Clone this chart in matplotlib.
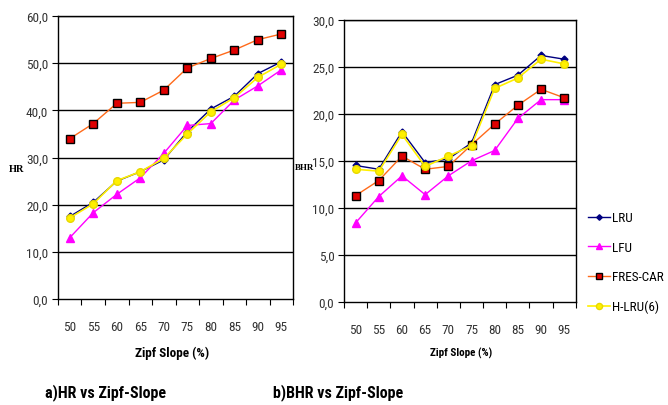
import numpy as np
import matplotlib.pyplot as plt
from matplotlib.ticker import FixedLocator, FuncFormatter

plt.rcParams['font.family'] = ['Roboto Condensed', 'Liberation Sans Narrow', 'Liberation Sans', 'DejaVu Sans']

# Zipf slope categories
slopes = ['50', '55', '60', '65', '70', '75', '80', '85', '90', '95']

# a) Hit ratio
hr_lru = [17.5, 20.5, 25.0, 27.0, 29.5, 35.5, 40.3, 43.0, 47.8, 50.3]
hr_lfu = [13.0, 18.3, 22.2, 25.7, 30.9, 36.8, 37.2, 42.2, 45.2, 48.6]
hr_fres = [34.0, 37.2, 41.5, 41.7, 44.3, 49.0, 51.0, 52.8, 55.0, 56.2]
hr_hlru = [17.2, 20.2, 25.1, 27.0, 29.8, 35.0, 39.7, 42.7, 47.0, 49.8]

# b) Byte hit ratio
bhr_lru = [14.5, 14.1, 18.1, 14.8, 15.2, 16.9, 23.1, 24.1, 26.2, 25.8]
bhr_lfu = [8.4, 11.2, 13.4, 11.4, 13.4, 15.0, 16.1, 19.5, 21.5, 21.5]
bhr_fres = [11.3, 12.9, 15.5, 14.1, 14.4, 16.7, 18.9, 20.9, 22.6, 21.7]
bhr_hlru = [14.1, 13.9, 17.8, 14.4, 15.5, 16.6, 22.7, 23.8, 25.8, 25.3]

styles = {
    'LRU': dict(color='#000080', marker='D', ms=3.5, mfc='#000080', mec='#000080', lw=1.0),
    'LFU': dict(color='#FF00FF', marker='^', ms=6, mfc='#FF00FF', mec='#FF00FF', lw=1.0),
    'FRES-CAR': dict(color='#FF6A1A', marker='s', ms=5.5, mfc='#E00000', mec='#000000', mew=1.0, lw=1.0),
    'H-LRU(6)': dict(color='#FFF000', marker='o', ms=5.5, mfc='#FFF000', mec='#E8D800', lw=1.2),
}

fig = plt.figure(figsize=(6.68, 4.06), dpi=100)
ax1 = fig.add_axes([0.0868, 0.261, 0.352, 0.697])
ax2 = fig.add_axes([0.515, 0.254, 0.347, 0.695])

x = np.arange(len(slopes))


def draw(ax, lru, lfu, fres, hlru, ymax, step):
    handles = []
    for name, vals in [('LRU', lru), ('LFU', lfu), ('FRES-CAR', fres), ('H-LRU(6)', hlru)]:
        h, = ax.plot(x, vals, label=name, **styles[name])
        handles.append(h)
    ax.set_xlim(-0.5, len(slopes) - 0.5)
    ax.set_ylim(0, ymax)
    yt = np.arange(0, ymax + 0.01, step)
    ax.set_yticks(yt)
    ax.yaxis.set_major_formatter(FuncFormatter(lambda v, p: ('%.1f' % v).replace('.', ',')))
    for v in yt[1:]:
        ax.axhline(v, color='black', lw=1.0, zorder=0)
    ax.set_xticks(x)
    ax.set_xticklabels(slopes)
    ax.xaxis.set_minor_locator(FixedLocator(np.arange(-0.5, len(slopes), 1.0)))
    ax.tick_params(axis='x', which='major', length=0, pad=15, labelsize=9.5, labelcolor='#333333')
    ax.tick_params(axis='x', which='minor', length=4, direction='out', width=0.8)
    ax.tick_params(axis='y', length=4, direction='out', width=0.8, labelsize=9.5, labelcolor='#333333', pad=3)
    for s in ax.spines.values():
        s.set_linewidth(1.0)
    return handles


handles = draw(ax1, hr_lru, hr_lfu, hr_fres, hr_hlru, 60, 10)
draw(ax2, bhr_lru, bhr_lfu, bhr_fres, bhr_hlru, 30, 5)

fig.text(0.013, 0.582, 'HR', fontsize=7.5, fontweight='bold', family='Liberation Serif', va='center', ha='left')
fig.text(0.4415, 0.585, 'BHR', fontsize=6.5, fontweight='bold', family='Liberation Serif', va='center', ha='left')

fig.text(0.257, 0.13, 'Zipf Slope (%)', fontsize=9.5, fontweight='bold', ha='center', va='center')
fig.text(0.69, 0.13, 'Zipf Slope (%)', fontsize=8, fontweight='bold', ha='center', va='center')
fig.text(0.067, 0.034, 'a)HR vs Zipf-Slope', fontsize=11.5, fontweight='bold', ha='left', va='center')
fig.text(0.408, 0.034, 'b)BHR vs Zipf-Slope', fontsize=11.5, fontweight='bold', ha='left', va='center')

fig.legend(handles=handles, loc='upper left', bbox_to_anchor=(0.873, 0.49), frameon=False,
           fontsize=9.5, labelspacing=1.25, handlelength=1.6, handletextpad=0.15, borderaxespad=0,
           markerscale=0.8)

fig.savefig('out.png', dpi=100)
